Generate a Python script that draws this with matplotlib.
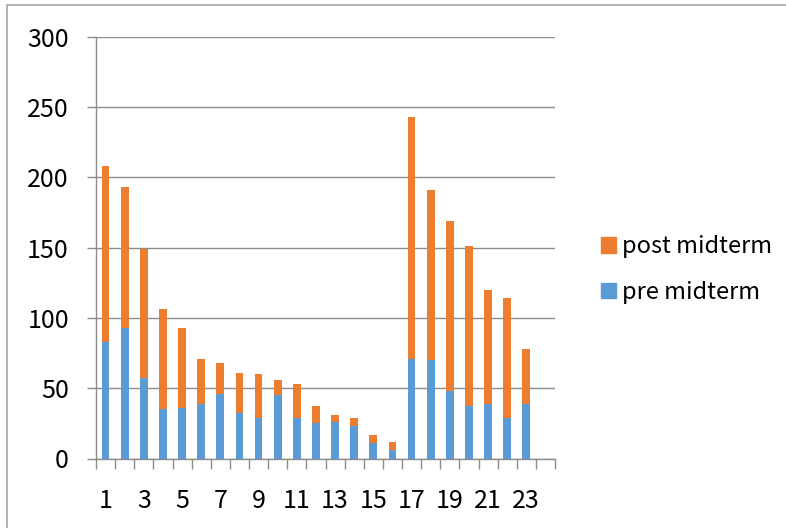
import matplotlib
matplotlib.use("Agg")
import matplotlib.pyplot as plt
from matplotlib.patches import Rectangle, Patch
import numpy as np

plt.rcParams['font.family'] = ['Noto Sans CJK KR', 'DejaVu Sans']

categories = list(range(1, 25))
pre_midterm = [83, 93, 57, 35, 36, 39, 46, 32, 29, 45, 29, 25,
               26, 23, 11, 6, 71, 70, 48, 37, 39, 29, 39, 0]
totals = [208, 193, 149, 106, 93, 71, 68, 61, 60, 56, 53, 37,
          31, 29, 17, 12, 243, 191, 169, 151, 120, 114, 78, 0]
post_midterm = [t - p for t, p in zip(totals, pre_midterm)]
xtick_labels = [str(c) for c in categories[::2]]
yticks = [0, 50, 100, 150, 200, 250, 300]

W, H = 786, 528
fig = plt.figure(figsize=(W / 100, H / 100), dpi=100)
ax = fig.add_axes([96 / W, 1 - 458.5 / H, (555 - 96) / W, (458.5 - 36.5) / H])

blue = '#5B9BD5'
orange = '#ED7D31'
grid = '#8C8C8C'

x = np.arange(len(categories))
ax.bar(x, pre_midterm, width=0.4, color=blue, zorder=3, label='pre midterm')
ax.bar(x, post_midterm, width=0.4, bottom=pre_midterm, color=orange, zorder=3,
       label='post midterm')

ax.set_xlim(-0.5, len(categories) - 0.5)
ax.set_ylim(0, 300)
ax.set_yticks(yticks)
ax.set_yticklabels([str(v) for v in yticks])
ax.set_xticks(x[::2])
ax.set_xticklabels(xtick_labels)
ax.set_xticks(np.arange(-0.5, len(categories) + 0.5, 1), minor=True)

ax.yaxis.grid(True, color=grid, linewidth=1.0, zorder=0)
ax.set_axisbelow(True)
for s in ['top', 'right']:
    ax.spines[s].set_visible(False)
for s in ['left', 'bottom']:
    ax.spines[s].set_color(grid)
    ax.spines[s].set_linewidth(1.0)

ax.tick_params(axis='y', length=6.5, width=1.0, color=grid, pad=13,
               labelsize=18, labelcolor='#000000')
ax.tick_params(axis='x', which='major', length=0, pad=21, labelsize=18,
               labelcolor='#000000')
ax.tick_params(axis='x', which='minor', length=7.2, width=1.0, color=grid)

handles = [Patch(color=orange, label='post midterm'),
           Patch(color=blue, label='pre midterm')]
fig.legend(handles=handles, loc='center left',
           bbox_to_anchor=(601 / W, 1 - 269.5 / H), frameon=False,
           fontsize=17, handlelength=0.64, handleheight=0.64,
           handletextpad=0.27, labelspacing=0.95, borderpad=0,
           borderaxespad=0)

# outer chart frame
fig.patches.append(Rectangle((7 / W, -0.1), 1.2, 1 - 5 / H + 0.1,
                             transform=fig.transFigure, fill=False,
                             edgecolor='#A6A6A6', linewidth=1.2))

fig.savefig('out.png', dpi=100)
